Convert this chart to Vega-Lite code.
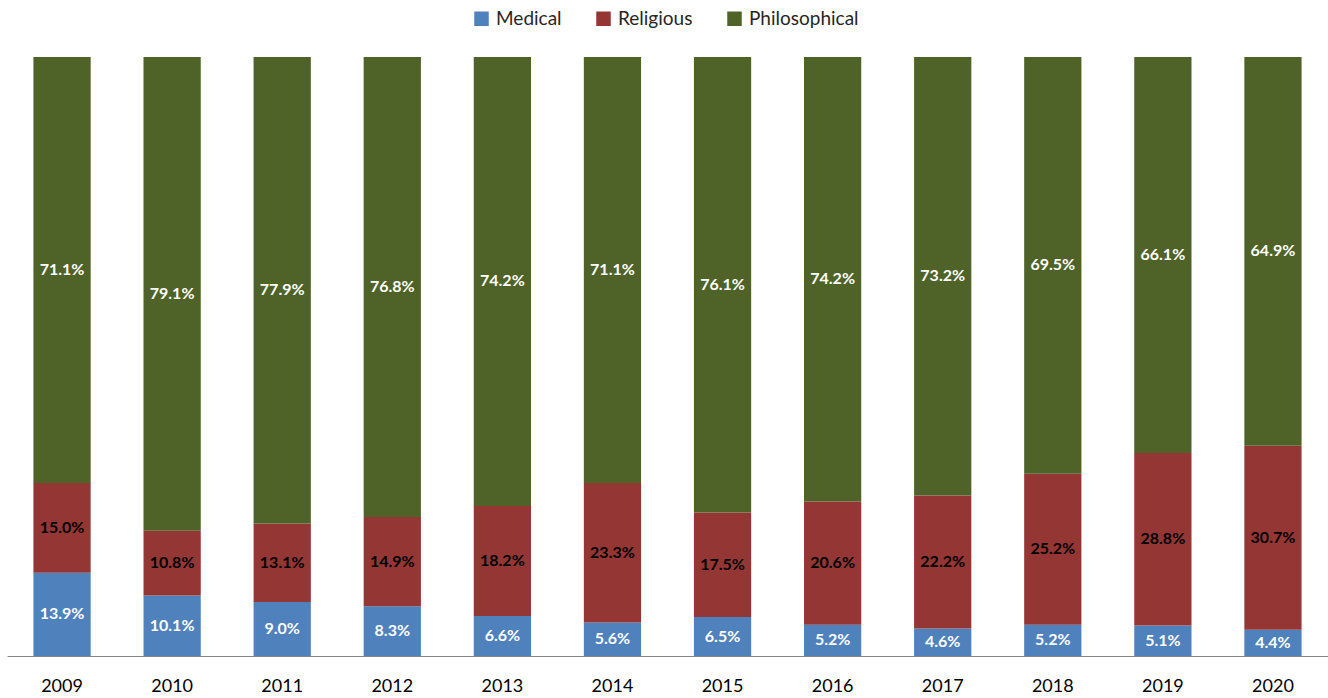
{
  "$schema": "https://vega.github.io/schema/vega-lite/v6.json",
  "width": 1321,
  "height": 599,
  "autosize": "none",
  "padding": {"left": 7, "top": 57, "right": 0, "bottom": 42},
  "background": "white",
  "config": {"view": {"stroke": null}, "font": "Lato"},
  "data": {"values": [
    {"year": "2009", "type": "Medical", "value": 13.9},
    {"year": "2009", "type": "Religious", "value": 15.0},
    {"year": "2009", "type": "Philosophical", "value": 71.1},
    {"year": "2010", "type": "Medical", "value": 10.1},
    {"year": "2010", "type": "Religious", "value": 10.8},
    {"year": "2010", "type": "Philosophical", "value": 79.1},
    {"year": "2011", "type": "Medical", "value": 9.0},
    {"year": "2011", "type": "Religious", "value": 13.1},
    {"year": "2011", "type": "Philosophical", "value": 77.9},
    {"year": "2012", "type": "Medical", "value": 8.3},
    {"year": "2012", "type": "Religious", "value": 14.9},
    {"year": "2012", "type": "Philosophical", "value": 76.8},
    {"year": "2013", "type": "Medical", "value": 6.6},
    {"year": "2013", "type": "Religious", "value": 18.2},
    {"year": "2013", "type": "Philosophical", "value": 74.2},
    {"year": "2014", "type": "Medical", "value": 5.6},
    {"year": "2014", "type": "Religious", "value": 23.3},
    {"year": "2014", "type": "Philosophical", "value": 71.1},
    {"year": "2015", "type": "Medical", "value": 6.5},
    {"year": "2015", "type": "Religious", "value": 17.5},
    {"year": "2015", "type": "Philosophical", "value": 76.1},
    {"year": "2016", "type": "Medical", "value": 5.2},
    {"year": "2016", "type": "Religious", "value": 20.6},
    {"year": "2016", "type": "Philosophical", "value": 74.2},
    {"year": "2017", "type": "Medical", "value": 4.6},
    {"year": "2017", "type": "Religious", "value": 22.2},
    {"year": "2017", "type": "Philosophical", "value": 73.2},
    {"year": "2018", "type": "Medical", "value": 5.2},
    {"year": "2018", "type": "Religious", "value": 25.2},
    {"year": "2018", "type": "Philosophical", "value": 69.5},
    {"year": "2019", "type": "Medical", "value": 5.1},
    {"year": "2019", "type": "Religious", "value": 28.8},
    {"year": "2019", "type": "Philosophical", "value": 66.1},
    {"year": "2020", "type": "Medical", "value": 4.4},
    {"year": "2020", "type": "Religious", "value": 30.7},
    {"year": "2020", "type": "Philosophical", "value": 64.9}
  ]},
  "transform": [
    {"calculate": "indexof(['Medical','Religious','Philosophical'], datum.type)", "as": "rank"},
    {"stack": "value", "groupby": ["year"], "sort": [{"field": "rank", "order": "ascending"}], "offset": "normalize", "as": ["y0", "y1"]},
    {"calculate": "(datum.y0 + datum.y1) / 2", "as": "mid"},
    {"calculate": "format(datum.value, '.1f') + '%'", "as": "label"}
  ],
  "encoding": {
    "x": {
      "field": "year", "type": "nominal", "title": null,
      "scale": {"paddingInner": 0.48, "paddingOuter": 0.24},
      "axis": {"labelAngle": 0, "ticks": false, "domainColor": "#868686", "domainWidth": 1, "labelFontSize": 18, "labelColor": "#000000", "labelPadding": 21, "labelFont": "Lato"}
    }
  },
  "layer": [
    {
      "mark": {"type": "bar"},
      "encoding": {
        "y": {"field": "y0", "type": "quantitative", "scale": {"domain": [0, 1]}, "axis": null},
        "y2": {"field": "y1"},
        "color": {
          "field": "type", "type": "nominal",
          "scale": {"domain": ["Medical", "Religious", "Philosophical"], "range": ["#4F81BD", "#943634", "#4F6228"]},
          "legend": {"title": null, "orient": "none", "direction": "horizontal", "legendX": 465, "legendY": -48, "symbolType": "square", "symbolSize": 210, "symbolStrokeWidth": 0, "labelFontSize": 19, "labelColor": "#262626", "labelFont": "Lato", "columnPadding": 32, "labelOffset": 5}
        }
      }
    },
    {
      "mark": {"type": "text", "fontWeight": "bold", "fontSize": 16, "font": "Lato", "baseline": "middle"},
      "encoding": {
        "y": {"field": "mid", "type": "quantitative"},
        "text": {"field": "label"},
        "color": {"condition": {"test": "datum.type === 'Religious'", "value": "#000000"}, "value": "#FFFFFF"}
      }
    }
  ]
}
